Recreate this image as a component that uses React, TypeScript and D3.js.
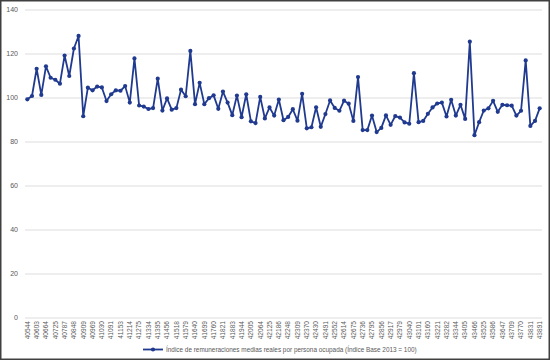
import React from "react";
import * as d3 from "d3";

const categories: number[] = [
  40544, 40575, 40603, 40634, 40664, 40695, 40725, 40756, 40787, 40817, 40848, 40878,
  40909, 40940, 40969, 41000, 41030, 41061, 41091, 41122, 41153, 41183, 41214, 41244,
  41275, 41306, 41334, 41365, 41395, 41426, 41456, 41487, 41518, 41548, 41579, 41609,
  41640, 41671, 41699, 41730, 41760, 41791, 41821, 41852, 41883, 41913, 41944, 41974,
  42005, 42036, 42064, 42095, 42125, 42156, 42186, 42217, 42248, 42278, 42309, 42339,
  42370, 42401, 42430, 42461, 42491, 42522, 42552, 42583, 42614, 42644, 42675, 42705,
  42736, 42767, 42795, 42826, 42856, 42887, 42917, 42948, 42979, 43009, 43040, 43070,
  43101, 43132, 43160, 43191, 43221, 43252, 43282, 43313, 43344, 43374, 43405, 43435,
  43466, 43497, 43525, 43556, 43586, 43617, 43647, 43678, 43709, 43739, 43770, 43800,
  43831, 43862, 43891,
];

const values: number[] = [
  99.4, 100.9, 113.3, 101.4, 114.4, 109.2, 108.3, 106.5, 119.3, 110.0, 122.5, 128.2,
  91.7, 104.7, 103.5, 105.2, 104.8, 98.6, 101.7, 103.5, 103.3, 105.4, 97.9, 118.0,
  96.6, 96.1, 95.0, 95.4, 108.8, 94.3, 99.8, 94.7, 95.4, 103.8, 100.8, 121.4,
  97.2, 106.9, 97.2, 99.9, 101.2, 95.1, 102.9, 97.9, 92.2, 101.1, 91.3, 101.7,
  89.4, 88.6, 100.5, 90.7, 95.7, 92.0, 99.3, 89.9, 91.4, 94.9, 89.7, 101.9,
  86.2, 86.7, 95.8, 86.9, 92.7, 98.9, 95.5, 94.2, 98.8, 97.4, 89.6, 109.5,
  85.4, 85.4, 92.0, 84.5, 86.4, 92.1, 87.8, 91.8, 91.1, 88.9, 88.3, 111.3,
  89.0, 89.6, 92.8, 95.7, 97.5, 97.9, 91.6, 99.2, 92.0, 96.9, 90.5, 125.6,
  83.1, 89.0, 94.3, 95.3, 98.7, 93.7, 96.9, 96.7, 96.5, 92.0, 94.2, 117.1,
  87.3, 89.6, 95.3,
];

const yTicks: number[] = [0, 20, 40, 60, 80, 100, 120, 140];
const seriesName =
  "Índice de remuneraciones medias reales por persona ocupada (Índice Base 2013 = 100)";

const W = 550;
const H = 360;
const LINE = "#203a8f";
const FONT = "'Liberation Sans', Arial, sans-serif";

export default function App() {
  const x = d3
    .scaleBand<number>()
    .domain(categories.map((_, i) => i))
    .range([25, 542])
    .padding(0);
  const y = d3.scaleLinear().domain([0, 140]).range([318, 10]);
  const cx = (i: number) => (x(i) as number) + x.bandwidth() / 2;

  const line = d3
    .line<number>()
    .x((_, i) => cx(i))
    .y((d) => y(d));

  return (
    <svg
      width={W}
      height={H}
      style={{ position: "absolute", left: 0, top: 0, display: "block" }}
      fontFamily={FONT}
    >
      <rect x={0} y={0} width={W} height={H} fill="#ffffff" />
      {yTicks.map((t) => (
        <g key={t}>
          <line x1={25} x2={542} y1={y(t)} y2={y(t)} stroke="#d9d9d9" strokeWidth={0.9} />
          <text
            x={18}
            y={y(t)}
            dy="0.35em"
            textAnchor="end"
            fontSize={7}
            fill="#595959"
          >
            {t}
          </text>
        </g>
      ))}
      {categories.map((c, i) =>
        i % 2 === 0 ? (
          <text
            key={c}
            transform={`translate(${cx(i)},${321}) rotate(-90)`}
            textAnchor="end"
            dy="0.35em"
            fontSize={6.6}
            fill="#595959"
          >
            {c}
          </text>
        ) : null
      )}
      <path d={line(values) || ""} fill="none" stroke={LINE} strokeWidth={1.8} strokeLinejoin="round" />
      {values.map((v, i) => (
        <circle key={i} cx={cx(i)} cy={y(v)} r={2.1} fill={LINE} />
      ))}
      <g>
        <line x1={143} x2={163} y1={349.5} y2={349.5} stroke={LINE} strokeWidth={1.8} />
        <circle cx={153} cy={349.5} r={2.1} fill={LINE} />
        <text x={166} y={349.5} dy="0.35em" fontSize={6.4} fill="#595959">
          {seriesName}
        </text>
      </g>
      <rect x={0.75} y={0.75} width={W - 1.5} height={H - 1.5} fill="none" stroke="#404040" strokeWidth={1.5} />
    </svg>
  );
}
